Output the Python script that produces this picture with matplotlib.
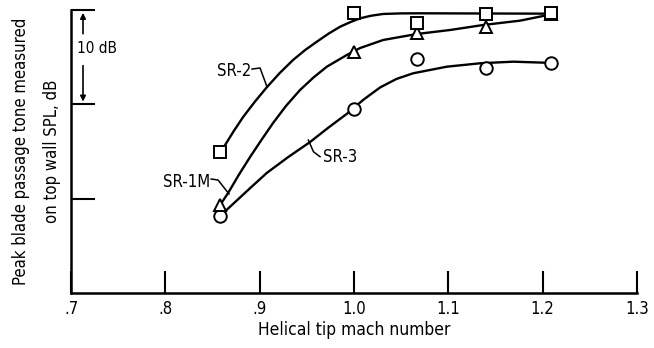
import matplotlib
matplotlib.use('Agg')
import matplotlib.pyplot as plt

plt.rcParams['font.family'] = ['DejaVu Sans']
plt.rcParams['font.stretch'] = 'condensed'

# measured points (helical tip Mach number, relative dB)
mach = [0.858, 1.0, 1.067, 1.14, 1.209]
sr2_db = [14.98, 29.66, 28.6, 29.59, 29.66]
sr1m_db = [9.33, 25.59, 27.54, 28.18, 29.6]
sr3_db = [8.17, 19.5, 24.78, 23.83, 24.36]

# faired curves
sr2_curve_x = [0.858, 0.8633, 0.8727, 0.8827, 0.895, 0.9075, 0.921, 0.9354, 0.948, 0.9606, 0.973, 0.9853, 0.996, 1.0065, 1.018, 1.0309, 1.05, 1.0701, 1.138, 1.209]
sr2_curve_y = [14.98, 15.69, 17.2, 18.70, 20.3, 21.81, 23.3, 24.71, 25.75, 26.65, 27.5, 28.24, 28.72, 29.13, 29.4, 29.59, 29.65, 29.66, 29.64, 29.62]
sr1m_curve_x = [0.858, 0.8665, 0.878, 0.8898, 0.902, 0.9142, 0.928, 0.9428, 0.957, 0.9712, 0.9924, 1.0065, 1.0309, 1.0669, 1.1019, 1.1369, 1.1761, 1.209]
sr1m_curve_y = [9.33, 10.60, 12.55, 14.42, 16.25, 18.03, 19.85, 21.53, 22.85, 24.00, 25.24, 25.98, 26.83, 27.47, 27.89, 28.42, 28.88, 29.55]
sr3_curve_x = [0.858, 0.8686, 0.888, 0.9075, 0.930, 0.9534, 0.973, 0.9924, 1.010, 1.0277, 1.045, 1.0627, 1.0984, 1.1337, 1.1687, 1.209]
sr3_curve_y = [8.17, 9.15, 10.95, 12.73, 14.4, 16.01, 17.55, 19.0, 20.5, 21.8, 22.7, 23.3, 24.00, 24.36, 24.53, 24.4]

xticks = [0.7, 0.8, 0.9, 1.0, 1.1, 1.2, 1.3]
xtick_labels = ['.7', '.8', '.9', '1.0', '1.1', '1.2', '1.3']

fig = plt.figure(figsize=(6.54, 3.48), dpi=100)
ax = fig.add_axes([0.1086, 0.158, 0.974 - 0.1086, 0.971 - 0.158])

lw = 1.7
ax.plot(sr2_curve_x, sr2_curve_y, color='black', lw=lw, zorder=2)
ax.plot(sr1m_curve_x, sr1m_curve_y, color='black', lw=lw, zorder=2)
ax.plot(sr3_curve_x, sr3_curve_y, color='black', lw=lw, zorder=2)

mk = dict(linestyle='none', markersize=9, markerfacecolor='white',
          markeredgecolor='black', markeredgewidth=1.4, zorder=3, clip_on=False)
ax.plot(mach, sr3_db, marker='o', **mk)
ax.plot(mach, sr1m_db, marker='^', **mk)
ax.plot(mach, sr2_db, marker='s', **mk)

# curve labels with leaders
fs = 12
ax.text(0.891, 23.5, 'SR-2', ha='right', va='center', fontsize=fs)
ax.plot([0.8919, 0.9004, 0.9078], [23.75, 23.86, 21.85], color='black', lw=1.1)
ax.text(0.8474, 11.8, 'SR-1M', ha='right', va='center', fontsize=fs)
ax.plot([0.8485, 0.8559, 0.8675], [12.09, 11.98, 10.5], color='black', lw=1.1)
ax.text(0.9672, 14.45, 'SR-3', ha='left', va='center', fontsize=fs)
ax.plot([0.9516, 0.957, 0.964], [16.22, 14.98, 14.45], color='black', lw=1.1)

# 10 dB scale bar
ax.annotate('', xy=(0.7127, 30), xytext=(0.7127, 27.2),
            arrowprops=dict(arrowstyle='-|>', color='black', lw=1.2, mutation_scale=8))
ax.annotate('', xy=(0.7127, 20), xytext=(0.7127, 24.4),
            arrowprops=dict(arrowstyle='-|>', color='black', lw=1.2, mutation_scale=8))
ax.text(0.7064, 25.98, '10 dB', ha='left', va='center', fontsize=11)

ax.set_xlim(0.7, 1.3)
ax.set_ylim(0, 30)
ax.set_xticks(xticks)
ax.set_xticklabels(xtick_labels, fontsize=12)
ax.set_yticks([10, 20, 30])
ax.set_yticklabels([])
ax.tick_params(axis='x', direction='in', length=16, width=1.5, pad=5)
ax.tick_params(axis='y', direction='in', length=17, width=1.5)
ax.spines['top'].set_visible(False)
ax.spines['right'].set_visible(False)
ax.spines['left'].set_linewidth(1.8)
ax.spines['bottom'].set_linewidth(1.8)

ax.set_xlabel('Helical tip mach number', fontsize=12.5, labelpad=2)
ax.set_ylabel('Peak blade passage tone measured\non top wall SPL, dB', fontsize=12,
              labelpad=4, linespacing=1.9)

fig.savefig('out.png', dpi=100)
